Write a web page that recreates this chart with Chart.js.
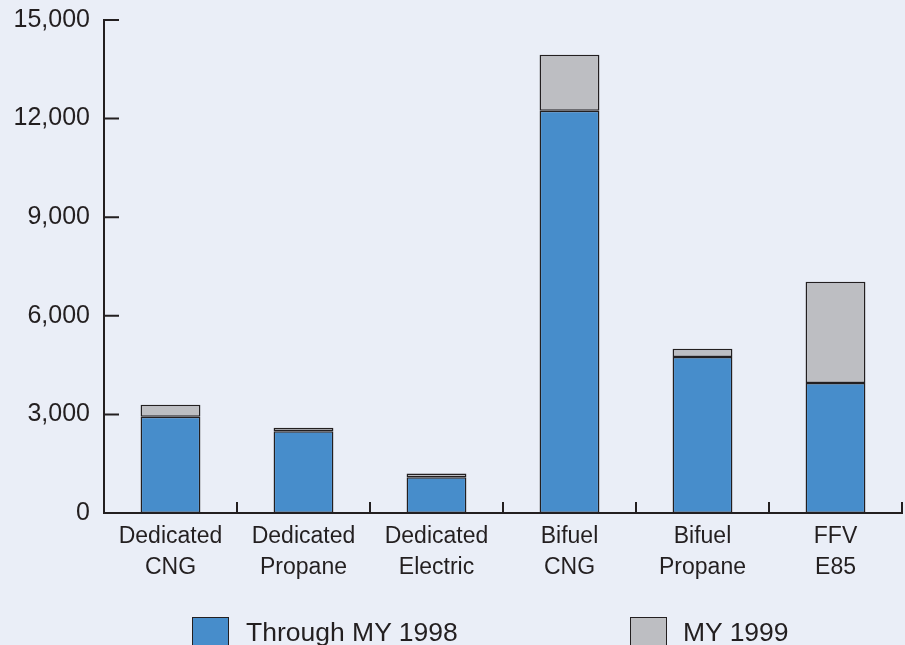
<!DOCTYPE html>
<html>
<head>
<meta charset="utf-8">
<script src="https://cdn.jsdelivr.net/npm/chart.js@4/dist/chart.umd.min.js"></script>
<style>
  html, body { margin: 0; padding: 0; background: #EAEEF7; overflow: hidden; width: 905px; height: 645px; }
  #wrap { position: relative; width: 905px; height: 645px; }
  canvas { position: absolute; left: 0; top: 0; }
  .leg { position: absolute; font-family: "Liberation Sans", Arial, sans-serif; font-size: 26.5px; color: #231F20; white-space: nowrap; }
  .box { position: absolute; width: 37px; height: 32px; border: 1px solid #231F20; box-sizing: border-box; }
</style>
</head>
<body>
<div id="wrap">
  <canvas id="c" width="905" height="645"></canvas>
  <div class="box" id="b1" style="left:192px; top:617px;"></div>
  <div class="leg" id="t1" style="left:246px; top:617px; line-height:30px;"></div>
  <div class="box" id="b2" style="left:630px; top:617px;"></div>
  <div class="leg" id="t2" style="left:683px; top:617px; line-height:30px;"></div>
</div>
<script>
const categories = [["Dedicated","CNG"],["Dedicated","Propane"],["Dedicated","Electric"],["Bifuel","CNG"],["Bifuel","Propane"],["FFV","E85"]];
const seriesNames = ["Through MY 1998", "MY 1999"];
const throughMY1998 = [2930, 2490, 1090, 12240, 4750, 3955];
const my1999 = [365, 105, 115, 1700, 250, 3080];
const yTicks = [0, 3000, 6000, 9000, 12000, 15000];

const BLUE = '#478DCB', GRAY = '#BDBEC2', INK = '#231F20';
const FONT = '"Liberation Sans", Arial, sans-serif';

document.getElementById('b1').style.background = BLUE;
document.getElementById('b2').style.background = GRAY;
document.getElementById('t1').textContent = seriesNames[0];
document.getElementById('t2').textContent = seriesNames[1];

const axisTicks = {
  id: 'axisTicks',
  afterDraw(chart) {
    const ctx = chart.ctx, ys = chart.scales.y, xs = chart.scales.x, a = chart.chartArea;
    ctx.save();
    ctx.strokeStyle = INK;
    ctx.lineWidth = 2;
    ctx.lineCap = 'butt';
    ctx.beginPath();
    ctx.moveTo(a.left, ys.getPixelForValue(15000) - 1);
    ctx.lineTo(a.left, ys.getPixelForValue(0) + 1);
    ctx.moveTo(a.left - 1, ys.getPixelForValue(0));
    ctx.lineTo(a.right + 1, ys.getPixelForValue(0));
    yTicks.forEach(v => {
      const py = ys.getPixelForValue(v);
      ctx.moveTo(a.left, py);
      ctx.lineTo(a.left + 15, py);
    });
    const n = categories.length;
    const half = (xs.getPixelForValue(1) - xs.getPixelForValue(0)) / 2;
    for (let i = 0; i < n; i++) {
      const px = xs.getPixelForValue(i) + half;
      const py = ys.getPixelForValue(0);
      ctx.moveTo(px, py);
      ctx.lineTo(px, py - 11);
    }
    ctx.stroke();
    ctx.restore();
  }
};

new Chart(document.getElementById('c'), {
  type: 'bar',
  data: {
    labels: categories,
    datasets: [
      { label: seriesNames[0], data: throughMY1998, backgroundColor: BLUE, borderColor: INK, borderWidth: 1.5, borderSkipped: false },
      { label: seriesNames[1], data: my1999, backgroundColor: GRAY, borderColor: INK, borderWidth: 1.5, borderSkipped: false }
    ]
  },
  options: {
    responsive: false,
    animation: false,
    events: [],
    layout: { padding: { top: 20, right: 3, left: 0, bottom: 0 } },
    plugins: { legend: { display: false }, tooltip: { enabled: false } },
    datasets: { bar: { barPercentage: 0.45, categoryPercentage: 1.0 } },
    scales: {
      x: {
        stacked: true,
        border: { display: false },
        grid: { display: false, drawTicks: false },
        ticks: { color: INK, font: { family: FONT, size: 23, lineHeight: 1.35 }, padding: 8, maxRotation: 0, autoSkip: false },
        afterFit(s) { s.height = 132; s.paddingLeft = 0; s.paddingRight = 0; }
      },
      y: {
        stacked: true,
        min: 0, max: 15000,
        border: { display: false },
        grid: { display: false, drawTicks: false },
        afterBuildTicks(s) { s.ticks = yTicks.map(v => ({ value: v })); },
        ticks: {
          color: INK, font: { family: FONT, size: 25 }, padding: 14,
          callback: v => v.toLocaleString('en-US')
        },
        afterFit(s) { s.width = 104; s.paddingTop = 0; s.paddingBottom = 0; }
      }
    }
  },
  plugins: [axisTicks]
});
</script>
</body>
</html>
